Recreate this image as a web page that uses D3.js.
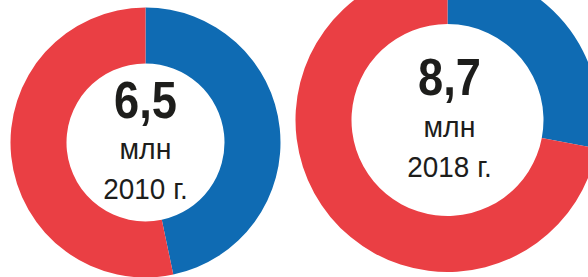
<!DOCTYPE html>
<html>
<head>
<meta charset="utf-8">
<script src="https://cdn.jsdelivr.net/npm/d3@7"></script>
<style>
	body { margin: 0; background: #fff; }
	svg { display: block; }
</style>
</head>
<body>
<div id="chart"></div>
<script>
// share of each part, percent (blue first, clockwise from 12 o'clock)
var years = ["2010 г.", "2018 г."];
var totals = ["6,5", "8,7"];
var bluePart = [46.7, 28];
var redPart = [53.3, 72];
var colors = ["#0f6bb3", "#ea3f44"];

var width = 588, height = 277;

// donut placement and size (right one is bigger since the total is bigger)
var cx = [145.5, 447.5];
var cy = [142.5, 120];
var outer = [135, 152];
var inner = [79, 96];
var textShift = [0, 2];

var svg = d3.select("#chart")
	.append("svg")
	.attr("width", width)
	.attr("height", height);

var pie = d3.pie().sort(null).value(function(d) { return d; });

// condensed look: Liberation Sans squeezed a little
function label(g, str, y, size, weight, sx) {
	g.append("text")
		.attr("transform", "translate(0," + y + ") scale(" + sx + ",1)")
		.attr("text-anchor", "middle")
		.style("font-family", "'Liberation Sans', Arial, sans-serif")
		.style("font-weight", weight)
		.style("font-size", size + "px")
		.style("fill", "#1d1d1b")
		.text(str);
}

years.forEach(function(year, i) {
	var g = svg.append("g")
		.attr("transform", "translate(" + cx[i] + "," + cy[i] + ")");

	var arc = d3.arc().innerRadius(inner[i]).outerRadius(outer[i]);

	g.selectAll("path")
		.data(pie([bluePart[i], redPart[i]]))
		.enter().append("path")
		.attr("d", arc)
		.style("fill", function(d, j) { return colors[j]; });

	var t = g.append("g").attr("transform", "translate(" + textShift[i] + ",0)");
	label(t, totals[i], -25, 52, "bold", 0.87);
	label(t, "млн", 16.5, 30, "normal", 0.95);
	label(t, year, 56.5, 30, "normal", 0.93);
});
</script>
</body>
</html>
